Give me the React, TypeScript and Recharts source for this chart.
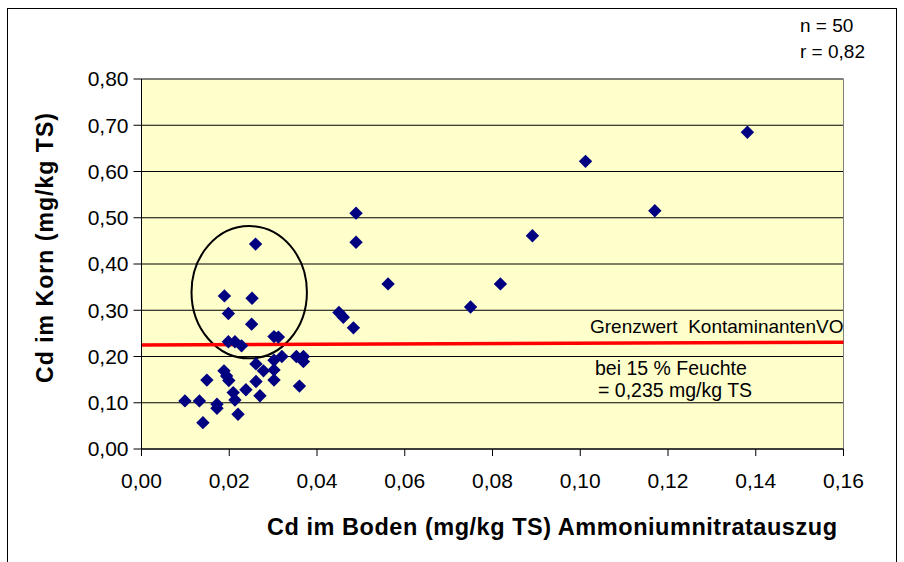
import { ScatterChart, Scatter, XAxis, YAxis, CartesianGrid, ReferenceLine, ReferenceArea } from "recharts"

// Cd im Boden (x) / Cd im Korn (y), mg/kg TS
const soilCd = [
  0.0099, 0.0132, 0.014, 0.0149, 0.0172, 0.0172, 0.0188, 0.0194, 0.0199, 0.0189,
  0.0198, 0.0198, 0.0213, 0.0228, 0.0209, 0.0213, 0.022, 0.0238, 0.026, 0.0252,
  0.0251, 0.0261, 0.0278, 0.0261, 0.027, 0.0302, 0.0312, 0.0302, 0.0302, 0.0302,
  0.032, 0.0353, 0.0369, 0.0369, 0.036, 0.045, 0.046, 0.0483, 0.0489, 0.0489,
  0.0562, 0.075, 0.0818, 0.0891, 0.1012, 0.117, 0.1381,
]
const grainCd = [
  0.104, 0.104, 0.057, 0.149, 0.097, 0.088, 0.169, 0.158, 0.148, 0.331,
  0.293, 0.232, 0.232, 0.223, 0.122, 0.106, 0.075, 0.128, 0.443, 0.326,
  0.27, 0.184, 0.169, 0.146, 0.115, 0.243, 0.242, 0.192, 0.171, 0.149,
  0.2, 0.2, 0.2, 0.189, 0.136, 0.295, 0.285, 0.262, 0.51, 0.447,
  0.357, 0.307, 0.357, 0.461, 0.622, 0.515, 0.685,
]
const xTicks = [0, 0.02, 0.04, 0.06, 0.08, 0.1, 0.12, 0.14, 0.16]
const yTicks = [0, 0.1, 0.2, 0.3, 0.4, 0.5, 0.6, 0.7, 0.8]
// Grenzwert line as drawn (left / right end)
const limitStart = 0.225
const limitEnd = 0.231

const points = soilCd.map((x, i) => ({ x, y: grainCd[i] }))

const FONT = '"Liberation Sans", Arial, sans-serif'
const fmt = (v: number) => v.toFixed(2).replace(".", ",")

const Diamond = (props: any) => {
  const { cx, cy } = props
  const r = 6.7
  return <polygon points={`${cx},${cy - r} ${cx + r},${cy} ${cx},${cy + r} ${cx - r},${cy}`} fill="#000080" />
}

const Ellipse = (props: any) => {
  const { x, y, width, height } = props
  return (
    <ellipse cx={x + width / 2} cy={y + height / 2} rx={width / 2} ry={height / 2} fill="none" stroke="#000" strokeWidth={2} />
  )
}

export default function App() {
  return (
    <div style={{ position: "absolute", left: 0, top: 0, width: 904, height: 562, overflow: "hidden", background: "#fff" }}>
      <div style={{ position: "absolute", left: 7, top: 8, width: 890, height: 600, border: "1px solid #000", boxSizing: "border-box" }} />
      <div style={{ position: "absolute", left: 0, top: 0 }}>
        <ScatterChart width={904} height={562} margin={{ top: 79, right: 60.5, left: 0, bottom: 53 }}>
          <CartesianGrid vertical={false} stroke="#000" fill="#FFFFCC" fillOpacity={1} />
          <XAxis
            type="number"
            dataKey="x"
            domain={[0, 0.16]}
            ticks={xTicks}
            interval={0}
            tickFormatter={fmt}
            height={60}
            tickSize={7}
            tickMargin={17}
            stroke="#000"
            tick={{ fill: "#000", fontSize: 21, fontFamily: FONT }}
          />
          <YAxis
            type="number"
            dataKey="y"
            domain={[0, 0.8]}
            ticks={yTicks}
            interval={0}
            tickFormatter={fmt}
            width={141.5}
            tickSize={8}
            tickMargin={5}
            stroke="#000"
            tick={{ fill: "#000", fontSize: 21, fontFamily: FONT }}
          />
          <ReferenceArea x1={0} x2={0.16} y1={0} y2={0.8} fill="none" stroke="#808080" strokeWidth={1} />
          <ReferenceArea x1={0.0114} x2={0.0377} y1={0.196} y2={0.482} shape={Ellipse} />
          <ReferenceLine
            segment={[
              { x: 0, y: limitStart },
              { x: 0.16, y: limitEnd },
            ]}
            stroke="#FF0000"
            strokeWidth={3.5}
          />
          <Scatter data={points} shape={Diamond} isAnimationActive={false} />
        </ScatterChart>
      </div>
      <svg width={904} height={562} style={{ position: "absolute", left: 0, top: 0, pointerEvents: "none" }} fontFamily={FONT}>
        <text x={800} y={32} fontSize={19} fill="#000">n = 50</text>
        <text x={800} y={58} fontSize={19} fill="#000">r = 0,82</text>
        <text x={590} y={333} fontSize={19} fill="#000" style={{ whiteSpace: "pre" }}>Grenzwert  KontaminantenVO</text>
        <text x={595} y={375} fontSize={19.5} fill="#000">bei 15 % Feuchte</text>
        <text x={598} y={397} fontSize={19.5} fill="#000">= 0,235 mg/kg TS</text>
        <text x={267} y={535} fontSize={23.5} fontWeight="bold" fill="#000" textLength={570} lengthAdjust="spacing">
          Cd im Boden (mg/kg TS) Ammoniumnitratauszug
        </text>
        <text
          x={-248}
          y={53}
          transform="rotate(-90)"
          fontSize={23}
          fontWeight="bold"
          fill="#000"
          textAnchor="middle"
          textLength={270}
          lengthAdjust="spacing"
        >
          Cd im Korn (mg/kg TS)
        </text>
      </svg>
    </div>
  )
}
